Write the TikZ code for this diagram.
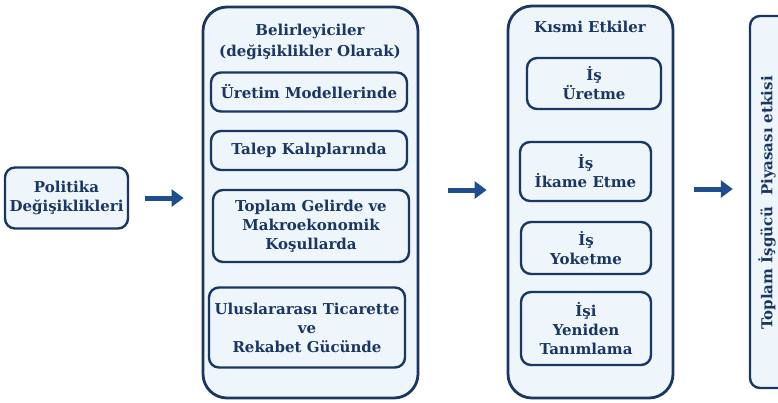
\documentclass[tikz,border=0pt]{standalone}
\usepackage{fontspec}
\setmainfont{DejaVu Serif}
\usetikzlibrary{arrows.meta}
\definecolor{navy}{HTML}{1A3662}
\definecolor{boxfill}{HTML}{EEF6FC}
\definecolor{arrowblue}{HTML}{1F4E8C}
\begin{document}
\begin{tikzpicture}[x=1pt,y=-1pt,
  txt/.style={font=\bfseries\fontsize{15}{19}\selectfont, text=navy, align=center},
  bigbox/.style={draw=navy, fill=boxfill, line width=2.8pt, rounded corners=24pt, inner sep=0pt},
  subbox/.style={txt, draw=navy, fill=boxfill, line width=2.4pt, rounded corners=10pt, inner sep=0pt},
  arr/.style={draw=arrowblue, line width=5pt, -{Triangle[length=12pt,width=17pt]}}
]
\clip (0,0) rectangle (778,402);
\useasboundingbox (0,0) rectangle (778,402);
\fill[white] (0,0) rectangle (778,402);

% left box
\node[subbox, minimum width=123pt, minimum height=61pt] (pol) at (66.5,198) {Politika\\Değişiklikleri};

% big box 1
\node[bigbox, minimum width=215pt, minimum height=391pt] (big1) at (310.5,202.5) {};
\node[txt, font=\bfseries\fontsize{15}{21}\selectfont] (t1) at (310,42) {Belirleyiciler\\(değişiklikler Olarak)};
\node[subbox, minimum width=196pt, minimum height=39pt] (s1) at (309,92) {Üretim Modellerinde};
\node[subbox, minimum width=196pt, minimum height=39pt] (s2) at (309,150.5) {Talep Kalıplarında};
\node[subbox, minimum width=196pt, minimum height=72pt] (s3) at (311,226) {Toplam Gelirde ve\\Makroekonomik\\Koşullarda};
\node[subbox, minimum width=196pt, minimum height=80pt] (s4) at (307,327.5) {Uluslararası Ticarette\\ve\\Rekabet Gücünde};

% big box 2
\node[bigbox, minimum width=165pt, minimum height=392pt] (big2) at (590.5,202) {};
\node[txt] (t2) at (590,27) {Kısmi Etkiler};
\node[subbox, minimum width=134pt, minimum height=51pt] (e1) at (594,83.5) {İş\\Üretme};
\node[subbox, minimum width=131pt, minimum height=59pt] (e2) at (585.5,171.5) {İş\\İkame Etme};
\node[subbox, minimum width=130pt, minimum height=52pt] (e3) at (586,248) {İş\\Yoketme};
\node[subbox, minimum width=130pt, minimum height=73pt] (e4) at (586,328.5) {İşi\\Yeniden\\Tanımlama};

% right box
\node[subbox, minimum width=80pt, minimum height=372pt] (rb) at (790,202) {};
\node[txt, rotate=90] (rt) at (767,203) {Toplam İşgücü\ \ Piyasası etkisi};

% arrows
\coordinate (a2) at (0,190);
\coordinate (a3) at (0,189);
\draw[arr, shorten <=16pt, shorten >=18pt] (pol.east) -- (pol.east -| big1.west);
\draw[arr, shorten <=29pt, shorten >=20pt] (big1.east |- a2) -- (big2.west |- a2);
\draw[arr, shorten <=20pt, shorten >=16pt] (big2.east |- a3) -- (rb.west |- a3);
\end{tikzpicture}
\end{document}
